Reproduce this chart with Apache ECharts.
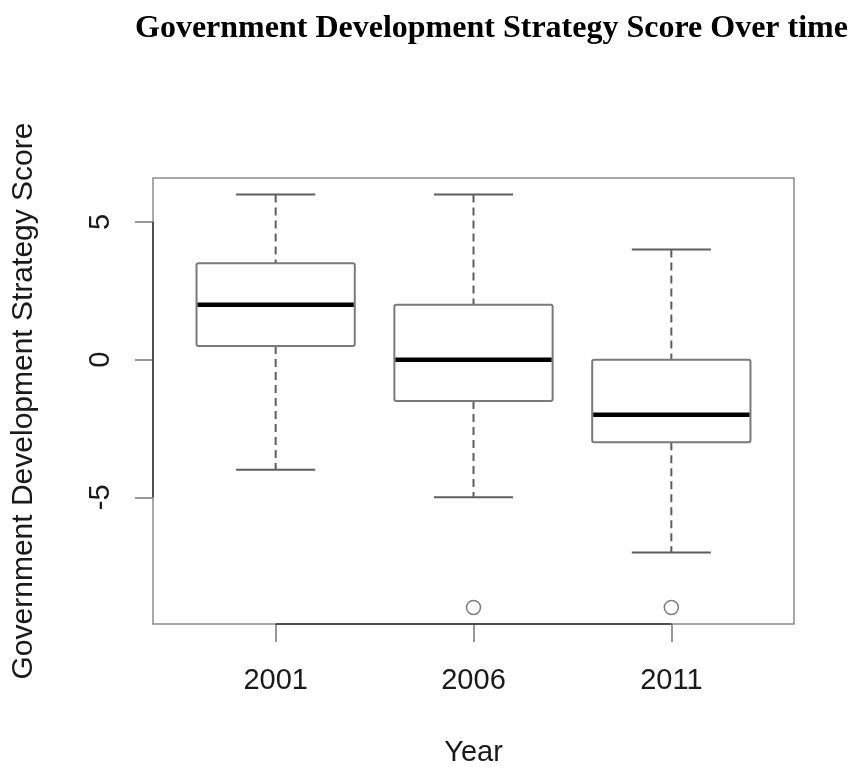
<!DOCTYPE html>
<html>
<head>
<meta charset="utf-8">
<script src="https://cdn.jsdelivr.net/npm/echarts@6/dist/echarts.min.js"></script>
<style>
  html, body { margin: 0; padding: 0; background: #ffffff; }
  #chart { width: 851px; height: 769px; }
</style>
</head>
<body>
<div id="chart"></div>
<script>
// Five-number summaries per survey year
const categories = ['2001', '2006', '2011'];
const whiskerLow = [-4, -5, -7];
const boxLow = [0.5, -1.5, -3];
const medians = [2, 0, -2];
const boxHigh = [3.5, 2, 0];
const whiskerHigh = [6, 6, 4];
const outlierValues = [[], [-9], [-9]];
const yTicks = [-5, 0, 5];

// Axis extents padded 4% beyond the data range
const xMin = 0.38, xMax = 3.62;
const yMin = -9.6, yMax = 6.6;
const positions = categories.map((c, i) => i + 1);

const boxData = categories.map((c, i) => [
  positions[i], whiskerLow[i], boxLow[i], medians[i], boxHigh[i], whiskerHigh[i]
]);
const outlierData = [];
outlierValues.forEach((vals, i) => vals.forEach(v => outlierData.push([positions[i], v])));

const chart = echarts.init(document.getElementById('chart'), null, { renderer: 'canvas' });

const sans = 'Liberation Sans, Arial, Helvetica, sans-serif';
const frameColor = '#8c8c8c';
const boxColor = '#7a7a7a';
const whiskerColor = '#5e5e5e';

function renderBox(params, api) {
  const x = api.value(0);
  const wLo = api.coord([x, api.value(1)]);
  const bLo = api.coord([x, api.value(2)]);
  const med = api.coord([x, api.value(3)]);
  const bHi = api.coord([x, api.value(4)]);
  const wHi = api.coord([x, api.value(5)]);
  const boxW = api.size([0.8, 0])[0];
  const capW = boxW / 2;
  const cx = med[0];
  const dashed = { stroke: whiskerColor, lineWidth: 2, lineDash: [8, 5] };
  const cap = { stroke: whiskerColor, lineWidth: 2 };
  return {
    type: 'group',
    children: [
      { type: 'line', shape: { x1: cx, y1: wHi[1], x2: cx, y2: bHi[1] }, style: dashed },
      { type: 'line', shape: { x1: cx, y1: bLo[1], x2: cx, y2: wLo[1] }, style: dashed },
      { type: 'line', shape: { x1: cx - capW / 2, y1: wHi[1], x2: cx + capW / 2, y2: wHi[1] }, style: cap },
      { type: 'line', shape: { x1: cx - capW / 2, y1: wLo[1], x2: cx + capW / 2, y2: wLo[1] }, style: cap },
      {
        type: 'rect',
        shape: { x: cx - boxW / 2, y: bHi[1], width: boxW, height: bLo[1] - bHi[1], r: 2 },
        style: { fill: '#ffffff', stroke: boxColor, lineWidth: 2 }
      },
      { type: 'line', shape: { x1: cx - boxW / 2 + 1, y1: med[1], x2: cx + boxW / 2 - 1, y2: med[1] }, style: { stroke: '#000000', lineWidth: 4.5 } }
    ]
  };
}

const option = {
  backgroundColor: '#ffffff',
  animation: false,
  title: {
    text: 'Government Development Strategy Score Over time',
    left: 130,
    top: 8,
    textStyle: {
      fontFamily: 'Liberation Serif, Times New Roman, serif',
      fontWeight: 'bold',
      fontSize: 32,
      color: '#000000'
    }
  },
  grid: {
    left: 153, top: 178, width: 641, height: 446,
    containLabel: false,
    outerBoundsMode: 'none',
    show: true,
    borderColor: frameColor,
    borderWidth: 1.5,
    backgroundColor: 'transparent'
  },
  xAxis: {
    type: 'value',
    min: xMin,
    max: xMax,
    name: 'Year',
    nameLocation: 'middle',
    nameGap: 114,
    nameTextStyle: { fontFamily: sans, fontSize: 29, color: '#1a1a1a' },
    axisLine: { show: false, onZero: false },
    splitLine: { show: false },
    axisTick: {
      show: true, length: 18, inside: false,
      customValues: positions,
      lineStyle: { color: '#777777', width: 1.5 }
    },
    axisLabel: {
      customValues: positions,
      formatter: v => categories[Math.round(v) - 1] || '',
      margin: 42,
      fontFamily: sans,
      fontSize: 29,
      color: '#1a1a1a'
    }
  },
  yAxis: {
    type: 'value',
    min: yMin,
    max: yMax,
    name: 'Government Development Strategy Score',
    nameLocation: 'middle',
    nameRotate: 90,
    nameGap: 114,
    nameTextStyle: { fontFamily: sans, fontSize: 30, color: '#1a1a1a' },
    axisLine: { show: false, onZero: false },
    splitLine: { show: false },
    axisTick: {
      show: true, length: 18,
      customValues: yTicks,
      lineStyle: { color: '#777777', width: 1.5 }
    },
    axisLabel: {
      customValues: yTicks,
      rotate: 90,
      margin: 38,
      fontFamily: sans,
      fontSize: 29,
      color: '#1a1a1a'
    }
  },
  series: [
    {
      name: 'axisLeft',
      type: 'line',
      silent: true,
      clip: false,
      symbol: 'none',
      lineStyle: { color: '#333333', width: 1.5 },
      data: [[xMin, yTicks[0]], [xMin, yTicks[yTicks.length - 1]]],
      z: 5
    },
    {
      name: 'axisBottom',
      type: 'line',
      silent: true,
      clip: false,
      symbol: 'none',
      lineStyle: { color: '#333333', width: 1.5 },
      data: [[positions[0], yMin], [positions[positions.length - 1], yMin]],
      z: 5
    },
    {
      name: 'boxes',
      type: 'custom',
      silent: true,
      renderItem: renderBox,
      data: boxData,
      z: 3
    },
    {
      name: 'outliers',
      type: 'scatter',
      silent: true,
      symbol: 'circle',
      symbolSize: 14,
      itemStyle: { color: '#ffffff', borderColor: '#5e5e5e', borderWidth: 1.5 },
      data: outlierData,
      z: 4
    }
  ]
};

chart.setOption(option);
</script>
</body>
</html>
